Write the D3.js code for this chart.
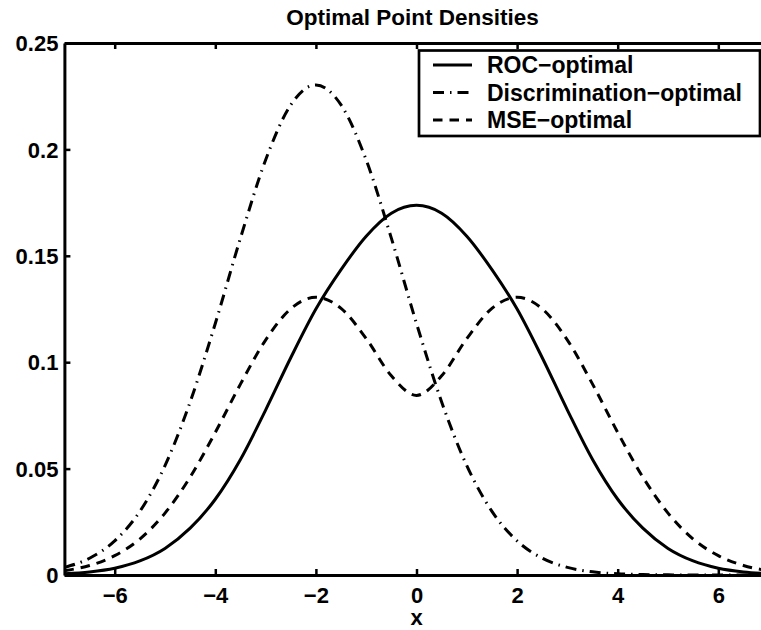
<!DOCTYPE html>
<html>
<head>
<meta charset="utf-8">
<script src="https://cdn.jsdelivr.net/npm/d3@7"></script>
<style>
  body { margin: 0; background: #fff; }
  text { font-family: "Liberation Sans", Arial, sans-serif; font-weight: bold; fill: #000; }
</style>
</head>
<body>
<div id="chart"></div>
<script>
// x grid (step 0.5) and densities
const xs = [-7, -6.5, -6, -5.5, -5, -4.5, -4, -3.5, -3, -2.5, -2, -1.5, -1, -0.5, 0,
  0.5, 1, 1.5, 2, 2.5, 3, 3.5, 4, 4.5, 5, 5.5, 6, 6.5, 7];

const rocOptimal = [0.00062, 0.00146, 0.0032, 0.00662, 0.0125, 0.0220, 0.0356, 0.0543, 0.0775, 0.1021,
  0.1250, 0.1435, 0.1592, 0.1700, 0.1737, 0.1700, 0.1592, 0.1435, 0.1250, 0.1021,
  0.0775, 0.0543, 0.0356, 0.0220, 0.0125, 0.00662, 0.0032, 0.00146, 0.00062];

const discOptimal = [0.00357, 0.00788, 0.0160, 0.0299, 0.0514, 0.0813, 0.1182, 0.1583, 0.1950, 0.2209,
  0.2303, 0.2209, 0.1950, 0.1583, 0.1182, 0.0813, 0.0514, 0.0299, 0.0160, 0.00788,
  0.00357, 0.00149, 0.00057, 0.0002, 0.00007, 0.00002, 0.00001, 0, 0];

const mseOptimal = [0.00202, 0.00447, 0.00907, 0.0169, 0.0291, 0.0460, 0.0670, 0.0897, 0.1104, 0.1251,
  0.1305, 0.1253, 0.1111, 0.0936, 0.0844, 0.0936, 0.1111, 0.1253, 0.1305, 0.1251,
  0.1104, 0.0897, 0.0670, 0.0460, 0.0291, 0.0169, 0.00907, 0.00447, 0.00202];

const seriesNames = ["ROC\u2212optimal", "Discrimination\u2212optimal", "MSE\u2212optimal"];
const xTicks = [-6, -4, -2, 0, 2, 4, 6];
const yTicks = [0, 0.05, 0.1, 0.15, 0.2, 0.25];

(function () {
  const width = 761, height = 630;
  const left = 64.4, right = 768.6, top = 43, bottom = 575;

  const svg = d3.select("#chart")
    .append("svg")
    .attr("width", width)
    .attr("height", height);

  const x = d3.scaleLinear().domain([-7, 7]).range([left, right]);
  const y = d3.scaleLinear().domain([0, 0.25]).range([bottom, top]);

  const dashes = ["none", "11,6,1.5,6", "9.5,7"];
  const series = [rocOptimal, discOptimal, mseOptimal];

  const line = d3.line()
    .x((d, i) => x(xs[i]))
    .y(d => y(d))
    .curve(d3.curveMonotoneX);

  svg.selectAll(".curve")
    .data(series)
    .enter()
    .append("path")
    .attr("class", "curve")
    .attr("fill", "none")
    .attr("stroke", "#000")
    .attr("stroke-width", 3)
    .attr("stroke-dasharray", (d, i) => dashes[i])
    .attr("d", line);

  // axes, ticks pointing inward like matlab
  const fmt = d => (d < 0 ? "\u2212" + Math.abs(d) : String(d));

  const gx = svg.append("g")
    .attr("transform", `translate(0,${bottom})`)
    .call(d3.axisBottom(x).tickValues(xTicks).tickSizeInner(-6).tickSizeOuter(0)
      .tickPadding(12).tickFormat(fmt));
  const gy = svg.append("g")
    .attr("transform", `translate(${left},0)`)
    .call(d3.axisLeft(y).tickValues(yTicks).tickSizeInner(-6).tickSizeOuter(0)
      .tickPadding(6).tickFormat(d => String(d)));
  const gt = svg.append("g")
    .attr("transform", `translate(0,${top})`)
    .call(d3.axisTop(x).tickValues(xTicks).tickSizeInner(-6).tickSizeOuter(0).tickFormat(""));
  const gr = svg.append("g")
    .attr("transform", `translate(${right},0)`)
    .call(d3.axisRight(y).tickValues(yTicks).tickSizeInner(-6).tickSizeOuter(0).tickFormat(""));

  [gx, gy, gt, gr].forEach(g => {
    g.select(".domain").attr("stroke", "#000").attr("stroke-width", 3);
    g.selectAll(".tick line").attr("stroke", "#000").attr("stroke-width", 2.5);
    g.selectAll("text")
      .attr("fill", "#000")
      .style("font-family", "'Liberation Sans', Arial, sans-serif")
      .style("font-weight", "bold")
      .style("font-size", "22px");
  });
  gy.selectAll("text").attr("dy", "0.35em");

  svg.append("text")
    .attr("x", (left + right) / 2 - 4)
    .attr("y", 25)
    .attr("text-anchor", "middle")
    .style("font-size", "22.5px")
    .text("Optimal Point Densities");

  svg.append("text")
    .attr("x", x(0))
    .attr("y", 625)
    .attr("text-anchor", "middle")
    .style("font-size", "22px")
    .text("x");

  // legend
  const legend = svg.append("g");
  legend.append("rect")
    .attr("x", 419)
    .attr("y", 50.5)
    .attr("width", 341)
    .attr("height", 85.5)
    .attr("fill", "#fff")
    .attr("stroke", "#000")
    .attr("stroke-width", 2.7);

  const rows = legend.selectAll(".row")
    .data(seriesNames)
    .enter()
    .append("g")
    .attr("transform", (d, i) => `translate(0,${65 + i * 27.5})`);

  rows.append("line")
    .attr("x1", 433)
    .attr("x2", 472)
    .attr("stroke", "#000")
    .attr("stroke-width", 3)
    .attr("stroke-dasharray", (d, i) => dashes[i]);

  rows.append("text")
    .attr("x", 487)
    .attr("dy", "0.35em")
    .style("font-size", "23px")
    .text(d => d);
})();
</script>
</body>
</html>
